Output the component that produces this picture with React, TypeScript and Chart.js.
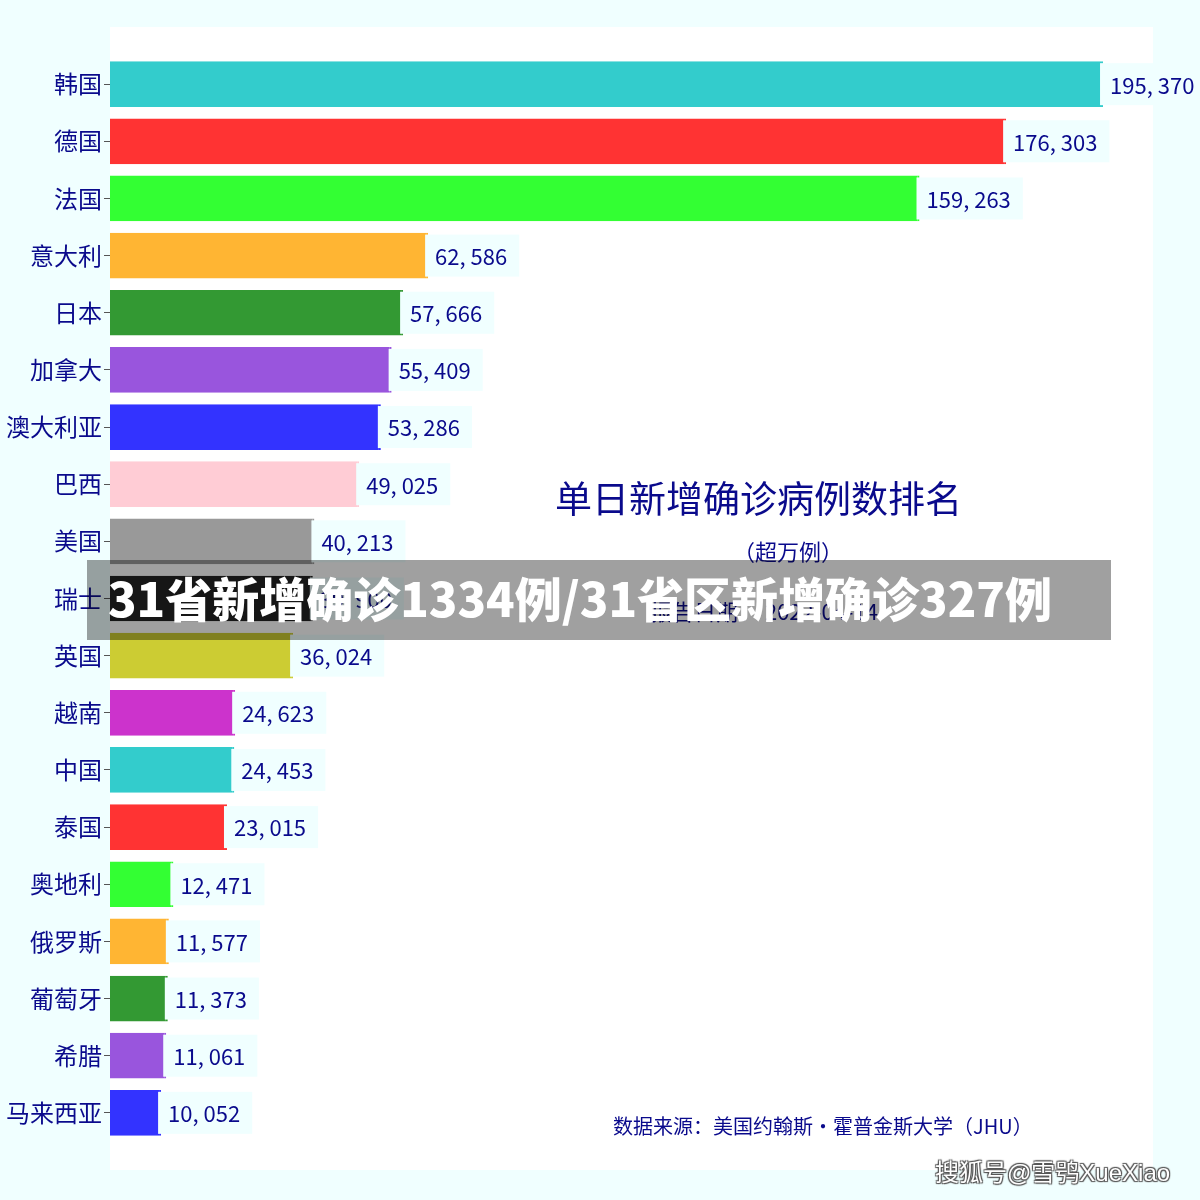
import React, { useEffect, useRef } from 'react';
import { Chart, registerables } from 'chart.js';

Chart.register(...registerables);

const countries = ['韩国', '德国', '法国', '意大利', '日本', '加拿大', '澳大利亚', '巴西', '美国', '瑞士', '英国', '越南', '中国', '泰国', '奥地利', '俄罗斯', '葡萄牙', '希腊', '马来西亚'];
const cases = [195370, 176303, 159263, 62586, 57666, 55409, 53286, 49025, 40213, 39900, 36024, 24623, 24453, 23015, 12471, 11577, 11373, 11061, 10052];
const palette = ['#33CCCC', '#FF3333', '#33FF33', '#FFB533', '#339933', '#9955DD', '#3333FF', '#FFCCD5', '#999999', '#222222', '#CCCC33', '#CC33CC'];

const titleText = '单日新增确诊病例数排名';
const subtitleText = '（超万例）';
const dateText = '报告日期：  2022-04-14';
const sourceText = '数据来源：美国约翰斯・霍普金斯大学（JHU）';
const bannerText = '31省新增确诊1334例/31省区新增确诊327例';
const watermarkText = '搜狐号@雪鸮XueXiao';

const NAVY = '#0A0A8C';
const FONT = '"Noto Sans CJK SC", "Noto Sans", sans-serif';

function fmt(n: number): string {
  return n.toLocaleString('en-US').replace(/,/g, ', ');
}

const bgPlugin = {
  id: 'plotBg',
  beforeDraw(chart: any) {
    const { ctx, chartArea } = chart;
    ctx.save();
    ctx.fillStyle = '#FFFFFF';
    ctx.fillRect(chartArea.left, chartArea.top, chartArea.right - chartArea.left, chartArea.bottom - chartArea.top);
    ctx.restore();
  },
};

const labelPlugin = {
  id: 'valueLabels',
  afterDatasetsDraw(chart: any) {
    const { ctx } = chart;
    const meta = chart.getDatasetMeta(0);
    ctx.save();
    ctx.font = `22px ${FONT}`;
    ctx.textBaseline = 'middle';
    ctx.textAlign = 'left';
    meta.data.forEach((bar: any, i: number) => {
      const v = chart.data.datasets[0].data[i];
      if (v == null) return;
      const txt = fmt(v as number);
      const w = ctx.measureText(txt).width;
      const x0 = bar.x - 3;
      const h = 42;
      ctx.fillStyle = '#F0FFFF';
      ctx.fillRect(x0, bar.y - h / 2, w + 22, h);
      ctx.fillStyle = NAVY;
      ctx.fillText(txt, bar.x + 7, bar.y + 1);
    });
    ctx.restore();
  },
};

export default function App() {
  const ref = useRef<HTMLCanvasElement | null>(null);

  useEffect(() => {
    if (!ref.current) return;
    const labels = ['', ...countries, ''];
    const data = [null, ...cases, null];
    const colors = ['transparent', ...cases.map((_, i) => palette[i % palette.length]), 'transparent'];
    const chart = new Chart(ref.current, {
      type: 'bar',
      data: {
        labels,
        datasets: [
          {
            data: data as any,
            backgroundColor: colors,
            borderColor: colors,
            borderWidth: { right: 2, top: 0, bottom: 0, left: 0 } as any,
            borderSkipped: false,
            barPercentage: 0.8,
            categoryPercentage: 1,
          },
        ],
      },
      options: {
        indexAxis: 'y',
        responsive: false,
        animation: false,
        layout: { padding: { left: 0, top: 27, right: 47, bottom: 30 } },
        plugins: { legend: { display: false }, tooltip: { enabled: false }, title: { display: false } },
        scales: {
          x: { type: 'linear', min: 0, max: 205200, display: false },
          y: {
            type: 'category',
            offset: false,
            border: { display: false },
            grid: {
              offset: false,
              drawOnChartArea: false,
              drawTicks: true,
              tickLength: 6,
              color: (c: any) => (c.index === 0 || c.index === labels.length - 1 ? 'transparent' : '#555555'),
            },
            ticks: { color: NAVY, font: { size: 24, family: FONT }, padding: 2, autoSkip: false },
            afterFit: (s: any) => {
              s.width = 110;
            },
          },
        },
      },
      plugins: [bgPlugin, labelPlugin],
    });
    return () => chart.destroy();
  }, []);

  const abs = (left: number, top: number, size: number, extra: any = {}): React.CSSProperties => ({
    position: 'absolute',
    left,
    top,
    fontSize: size,
    lineHeight: 1,
    fontFamily: FONT,
    color: NAVY,
    whiteSpace: 'nowrap',
    textSpacingTrim: 'space-all',
    ...extra,
  } as any);

  return (
    <div style={{ position: 'fixed', left: 0, top: 0, width: 1200, height: 1200, background: '#F0FFFF', overflow: 'hidden' }}>
      <canvas ref={ref} width={1200} height={1200} style={{ position: 'absolute', left: 0, top: 0, width: 1200, height: 1200 }} />
      <div style={abs(555, 479, 37)}>{titleText}</div>
      <div style={abs(733, 539, 22)}>{subtitleText}</div>
      <div style={abs(650, 599, 22)}>{dateText}</div>
      <div style={abs(613, 1116, 20)}>{sourceText}</div>
      <div
        style={{ position: 'absolute', left: 87, top: 560, width: 1024, height: 80, background: '#A0A0A0', mixBlendMode: 'multiply' }}
      />
      <div style={abs(108, 573, 47, { color: '#FFFFFF', fontWeight: 900 })}>{bannerText}</div>
      <div
        style={abs(935, 1161, 24, {
          color: '#FFFFFF',
          fontFamily: '"Liberation Sans", "Noto Sans CJK SC", sans-serif',
          textShadow: '1px 1px 1px #555, -1px -1px 1px #555, 1px -1px 1px #555, -1px 1px 1px #555',
        })}
      >
        {watermarkText}
      </div>
    </div>
  );
}
